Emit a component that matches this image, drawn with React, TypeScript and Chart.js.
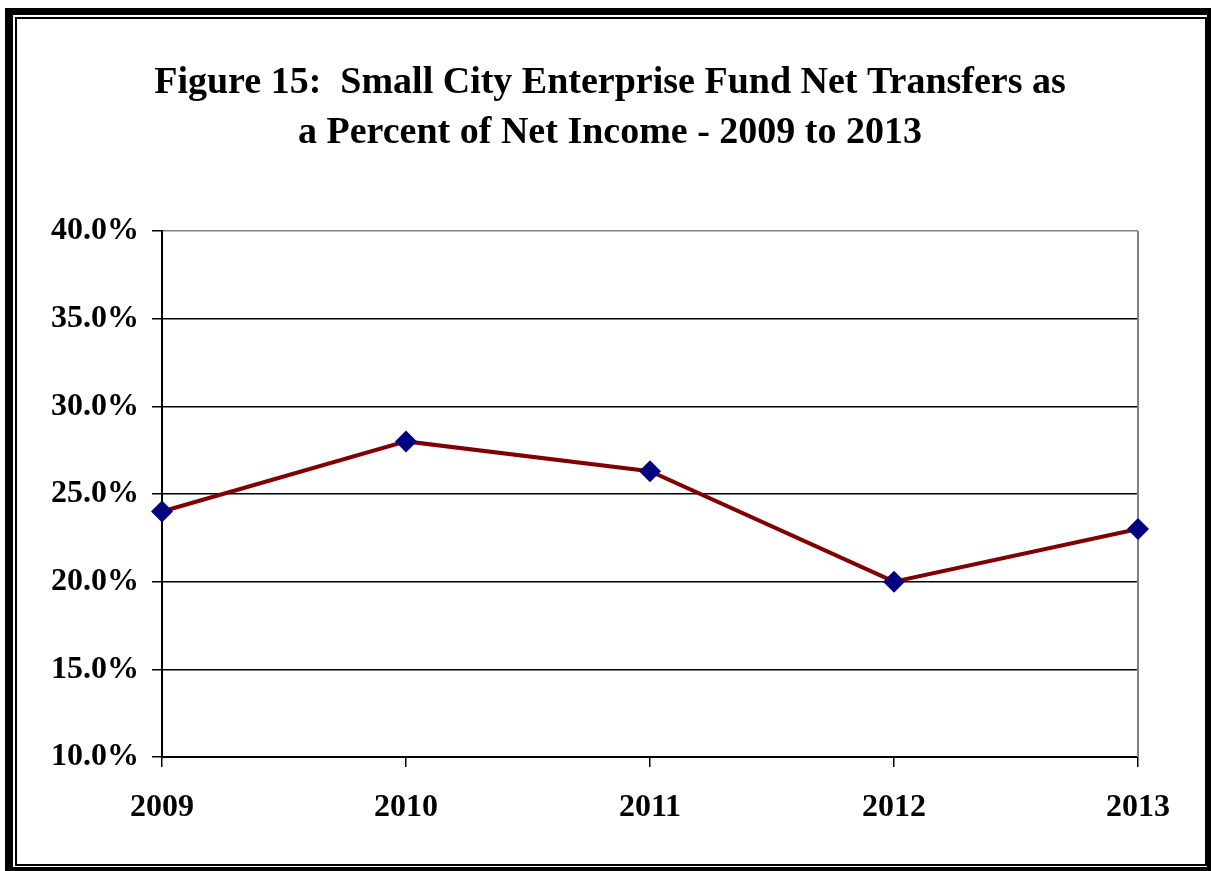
import React, { useEffect, useRef } from "react";
import { Chart, registerables } from "chart.js";

Chart.register(...registerables);

const titleLines = [
  "Figure 15:  Small City Enterprise Fund Net Transfers as",
  "a Percent of Net Income - 2009 to 2013",
];
const years = ["2009", "2010", "2011", "2012", "2013"];
const netTransferPct = [24.0, 28.0, 26.3, 20.0, 23.0];
const yMin = 10;
const yMax = 40;
const yStep = 5;

const FONT = "'Liberation Serif', 'Times New Roman', serif";

const plotBorderPlugin = {
  id: "plotBorder",
  beforeDatasetsDraw(chart: any) {
    const { ctx, chartArea } = chart;
    ctx.save();
    ctx.strokeStyle = "#808080";
    ctx.lineWidth = 2;
    ctx.beginPath();
    ctx.moveTo(chartArea.right, chartArea.top);
    ctx.lineTo(chartArea.right, chartArea.bottom);
    ctx.stroke();
    ctx.restore();
  },
};

const titlePlugin = {
  id: "centeredTitle",
  afterDraw(chart: any) {
    const { ctx } = chart;
    ctx.save();
    ctx.fillStyle = "#000";
    ctx.font = `bold 38px ${FONT}`;
    ctx.textAlign = "center";
    ctx.textBaseline = "middle";
    const cx = 610;
    titleLines.forEach((line, i) => {
      ctx.fillText(line, cx, 83 + i * 50);
    });
    ctx.restore();
  },
};

export default function App() {
  const ref = useRef<HTMLCanvasElement | null>(null);

  useEffect(() => {
    if (!ref.current) return;
    const chart = new Chart(ref.current, {
      type: "line",
      data: {
        labels: years,
        datasets: [
          {
            data: netTransferPct,
            borderColor: "#800000",
            borderWidth: 4,
            tension: 0,
            pointStyle: "rectRot",
            pointRadius: 11,
            pointHoverRadius: 11,
            pointBackgroundColor: "#000080",
            pointBorderColor: "#000080",
            pointBorderWidth: 0,
          },
        ],
      },
      plugins: [plotBorderPlugin, titlePlugin],
      options: {
        responsive: false,
        animation: false,
        layout: { padding: { left: 40, right: 73, top: 231, bottom: 48 } },
        plugins: {
          legend: { display: false },
          tooltip: { enabled: false },
          title: { display: false },
        },
        scales: {
          x: {
            type: "category",
            offset: false,
            grid: {
              display: true,
              drawOnChartArea: false,
              drawTicks: true,
              tickLength: 10,
              color: "#000",
              lineWidth: 1.5,
              offset: false,
            },
            border: { display: true, color: "#000", width: 2 },
            ticks: {
              color: "#000",
              padding: 22,
              maxRotation: 0,
              font: { family: FONT, size: 32, weight: "bold", lineHeight: 1.2 },
            },
            afterFit: (s: any) => {
              s.height = 66;
            },
          },
          y: {
            min: yMin,
            max: yMax,
            ticks: {
              stepSize: yStep,
              color: "#000",
              padding: 13,
              font: { family: FONT, size: 32, weight: "bold" },
              callback: (v: any) => Number(v).toFixed(1) + "%",
            },
            grid: {
              drawTicks: true,
              tickLength: 10,
              tickColor: "#000",
              lineWidth: 1.5,
              color: (c: any) => (c.tick && c.tick.value === yMax ? "#808080" : "#000"),
            },
            border: { display: true, color: "#000", width: 2 },
            afterFit: (s: any) => {
              s.width = 122;
            },
          },
        },
      },
    });
    return () => chart.destroy();
  }, []);

  return (
    <div
      style={{
        position: "fixed",
        left: 0,
        top: 0,
        width: 1211,
        height: 871,
        overflow: "hidden",
        background: "#fff",
      }}
    >
      <canvas ref={ref} width={1211} height={871} style={{ position: "absolute", left: 0, top: 0 }} />
      <div
        style={{
          position: "absolute",
          left: 5,
          top: 8,
          width: 1210,
          height: 867,
          boxSizing: "border-box",
          borderStyle: "solid",
          borderColor: "#000",
          borderWidth: "7px 8px 8px 8px",
          pointerEvents: "none",
        }}
      />
      <div
        style={{
          position: "absolute",
          left: 15,
          top: 17,
          width: 1192,
          height: 849,
          boxSizing: "border-box",
          border: "2px solid #000",
          pointerEvents: "none",
        }}
      />
    </div>
  );
}
